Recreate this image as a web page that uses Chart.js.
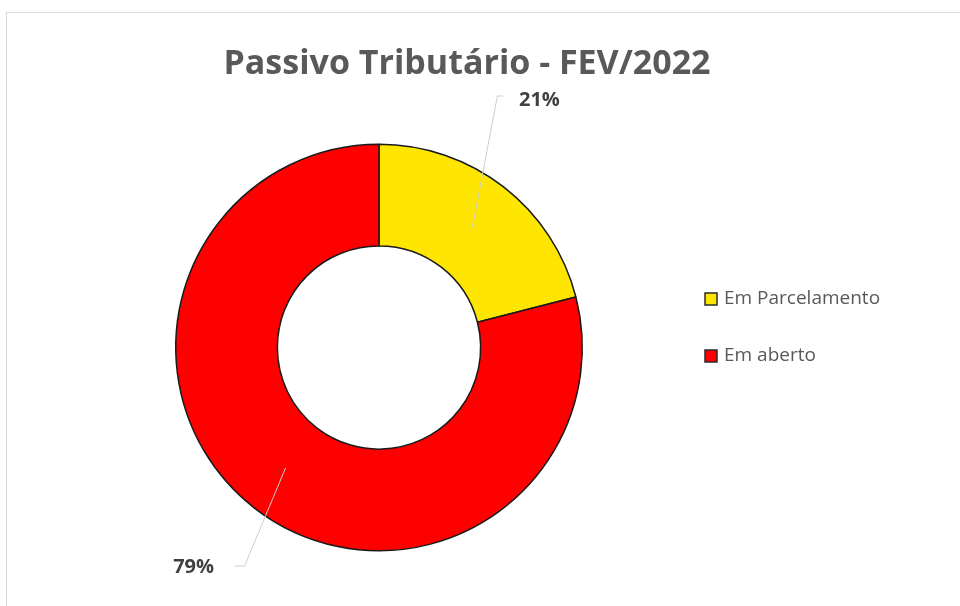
<!DOCTYPE html>
<html>
<head>
<meta charset="utf-8">
<script src="https://cdn.jsdelivr.net/npm/chart.js@4"></script>
<style>
  html, body { margin: 0; padding: 0; background: #fff; }
  #wrap { width: 960px; height: 606px; position: relative; }
</style>
</head>
<body>
<div id="wrap"><canvas id="passivoChart"></canvas></div>
<script>
var chart_title = 'Passivo Tributário - FEV/2022';
var categories = ['Em Parcelamento', 'Em aberto'];
var values = [21, 79];
var slice_colors = ['#FFE600', '#FF0000'];

// frame + title drawn behind the chart
var frame_plugin = {
    id: 'frame',
    beforeDraw: function(chart) {
        var ctx = chart.ctx;
        ctx.save();
        ctx.fillStyle = '#ffffff';
        ctx.fillRect(0, 0, chart.width, chart.height);
        ctx.strokeStyle = '#d9d9d9';
        ctx.lineWidth = 1;
        ctx.strokeRect(6.5, 12.5, chart.width, chart.height);
        ctx.fillStyle = '#595959';
        ctx.font = 'bold 34px "Open Sans", sans-serif';
        ctx.textAlign = 'center';
        ctx.textBaseline = 'middle';
        ctx.fillText(chart_title, 467, 64);
        ctx.restore();
    }
};

// percent labels with leader lines, plus the legend
var labels_plugin = {
    id: 'outerLabels',
    afterDraw: function(chart) {
        var ctx = chart.ctx;
        var meta = chart.getDatasetMeta(0);
        var total = values.reduce(function(a, b) { return a + b; }, 0);
        ctx.save();
        meta.data.forEach(function(arc, i) {
            var mid = (arc.startAngle + arc.endAngle) / 2;
            var r = (arc.innerRadius + arc.outerRadius) / 2;
            var px = arc.x + Math.cos(mid) * r;
            var py = arc.y + Math.sin(mid) * r;
            var right = Math.cos(mid) >= 0;
            // elbow point above/below the ring
            var ex, ey, hx, tx, ty;
            if (right) { ex = px + 25; ey = 96; hx = ex + 6; tx = ex + 42; ty = 100; }
            else { ex = px - 41; ey = 566; hx = ex - 10; tx = ex - 51; ty = 567; }
            ctx.strokeStyle = '#cfcfcf';
            ctx.lineWidth = 1;
            ctx.beginPath();
            ctx.moveTo(px, py);
            ctx.lineTo(ex, ey);
            ctx.lineTo(hx, ey);
            ctx.stroke();
            ctx.fillStyle = '#404040';
            ctx.font = 'bold 20px "Open Sans", sans-serif';
            ctx.textAlign = 'center';
            ctx.textBaseline = 'middle';
            ctx.fillText(Math.round(values[i] / total * 100) + '%', tx, ty);
        });
        // legend
        var ly = [299, 356];
        categories.forEach(function(name, i) {
            ctx.fillStyle = slice_colors[i];
            ctx.fillRect(705, ly[i] - 6, 12, 12);
            ctx.strokeStyle = '#2b2b2b';
            ctx.lineWidth = 1.5;
            ctx.strokeRect(705, ly[i] - 6, 12, 12);
            ctx.fillStyle = '#595959';
            ctx.font = '19px "Open Sans", sans-serif';
            ctx.textAlign = 'left';
            ctx.textBaseline = 'middle';
            ctx.fillText(name, 724, ly[i]);
        });
        ctx.restore();
    }
};

new Chart(document.getElementById('passivoChart'), {
    type: 'doughnut',
    data: {
        labels: categories,
        datasets: [{
            data: values,
            backgroundColor: slice_colors,
            borderColor: '#1a1a1a',
            borderWidth: 1.5
        }]
    },
    options: {
        responsive: true,
        maintainAspectRatio: false,
        animation: false,
        cutout: '50%',
        layout: {
            padding: { top: 143, bottom: 54, left: 175, right: 377 }
        },
        plugins: {
            legend: { display: false },
            tooltip: { enabled: false }
        }
    },
    plugins: [frame_plugin, labels_plugin]
});
</script>
</body>
</html>
